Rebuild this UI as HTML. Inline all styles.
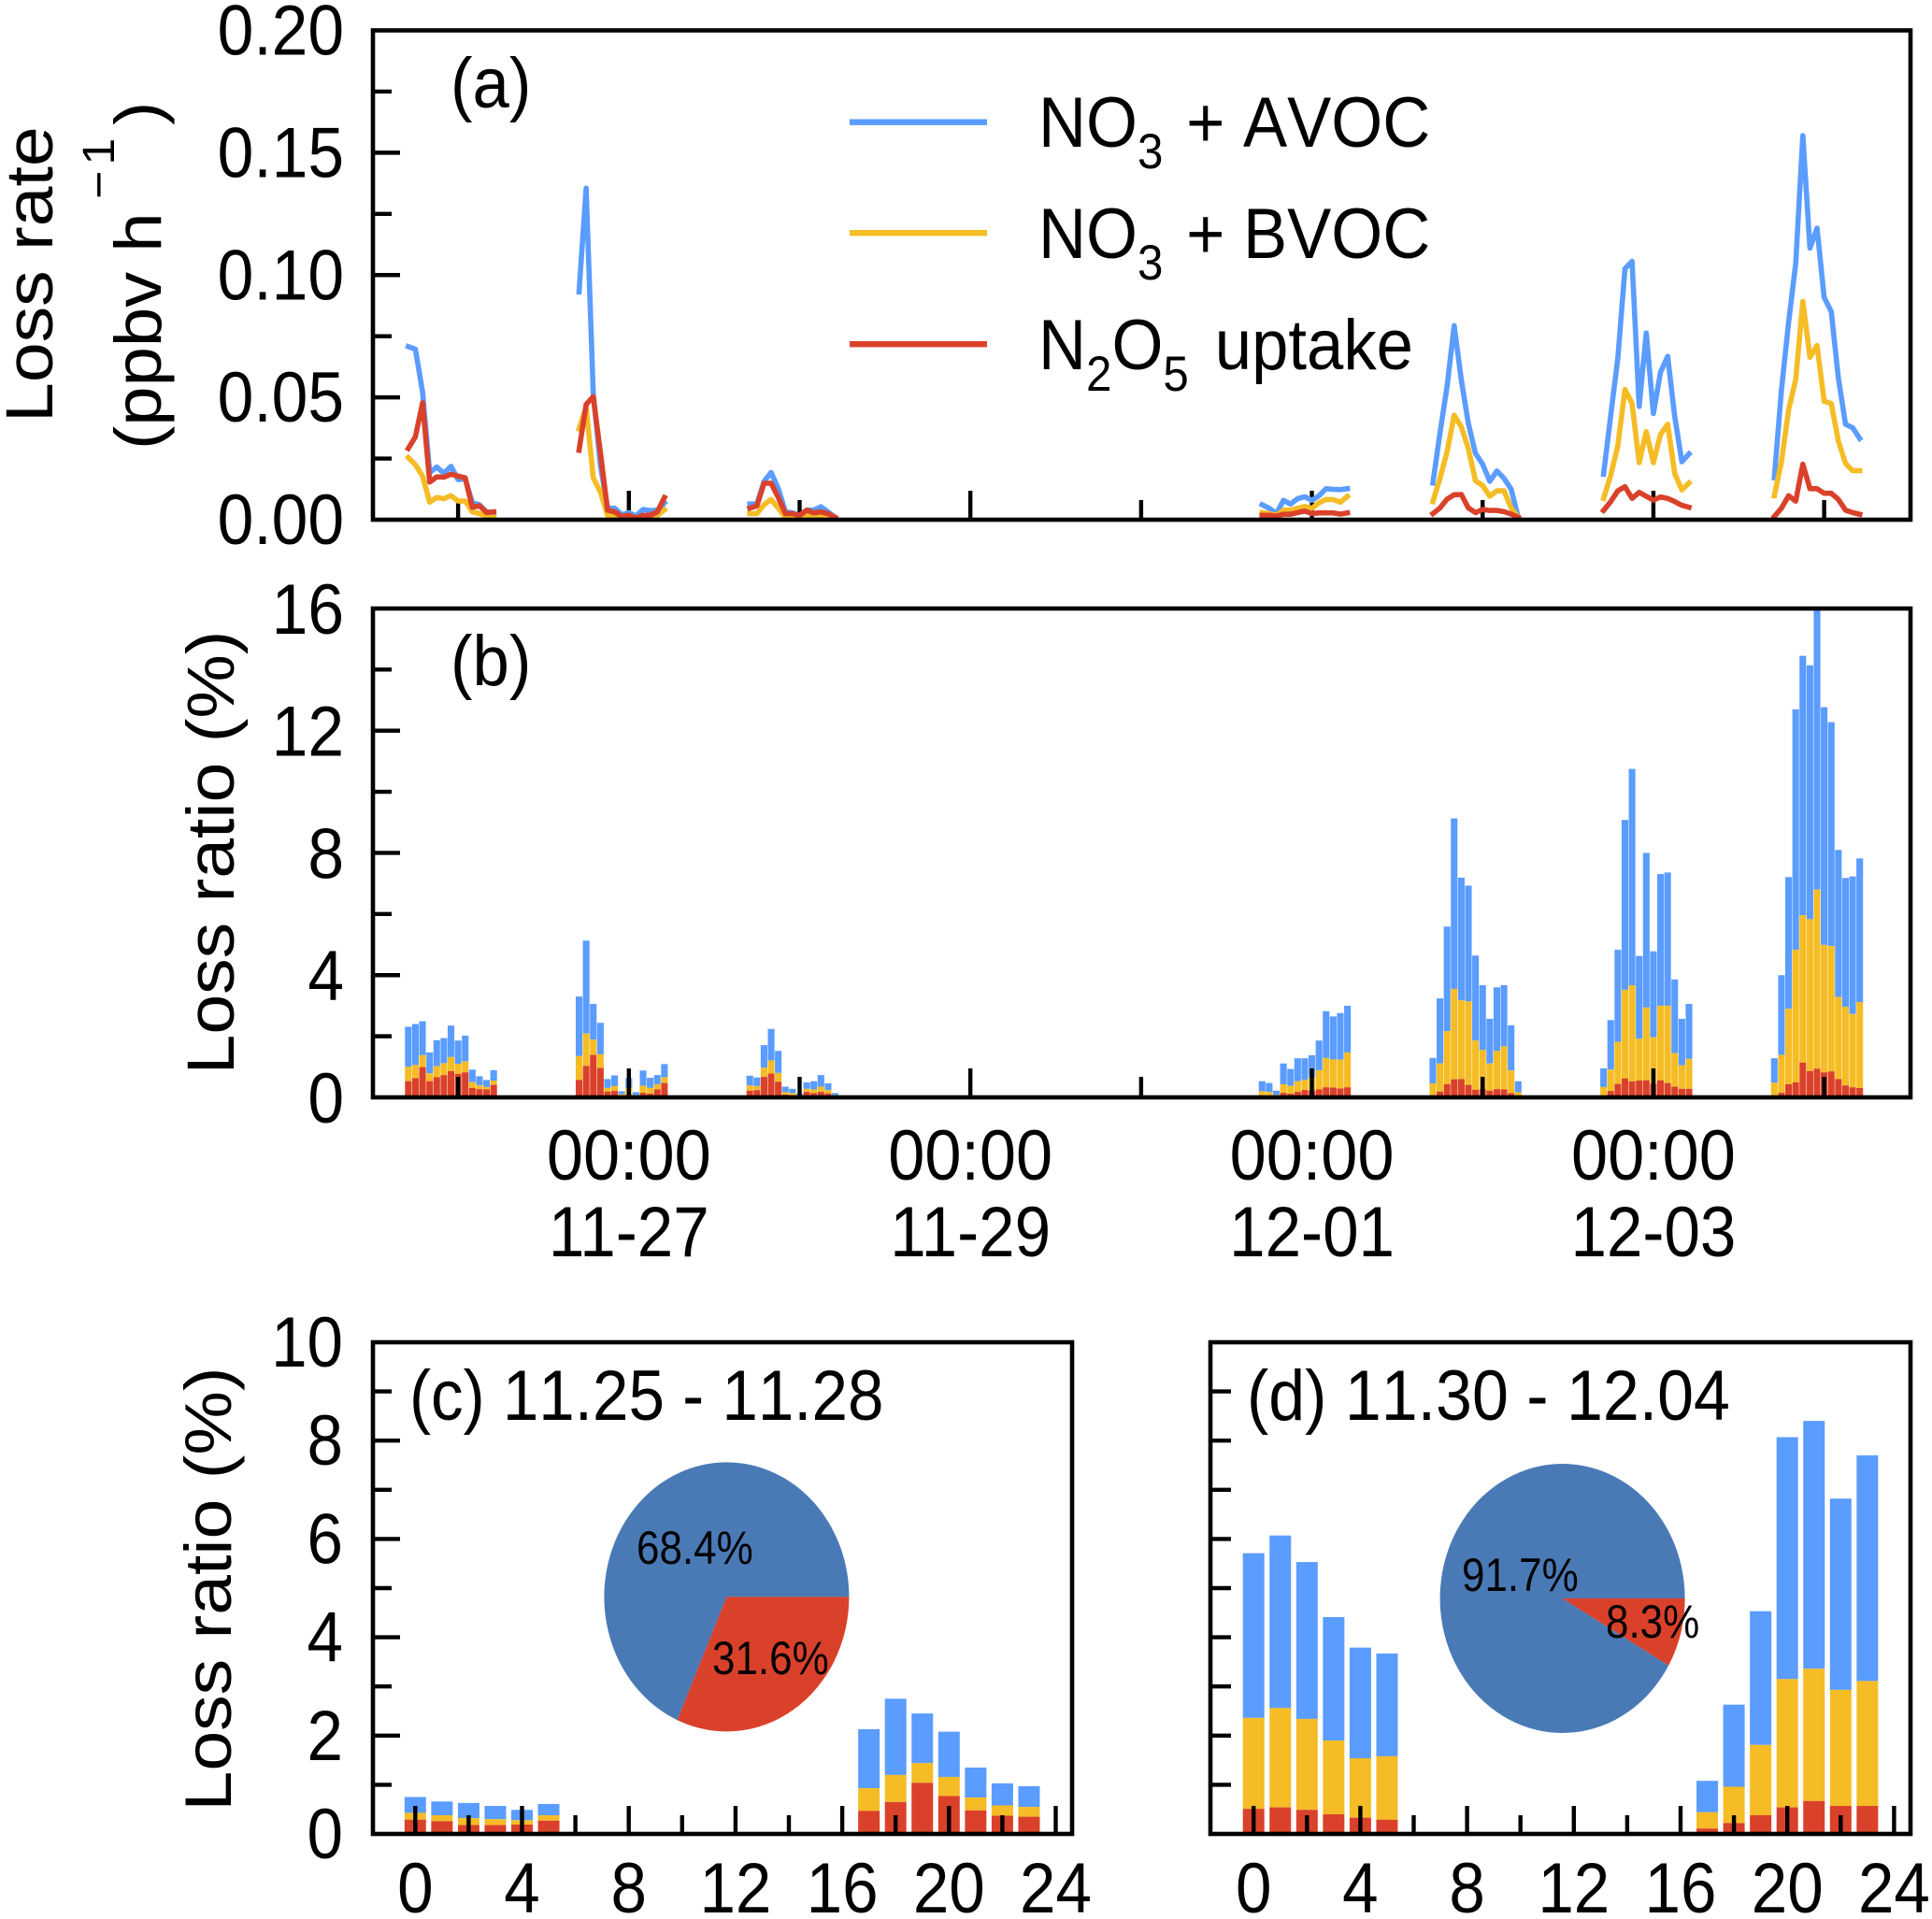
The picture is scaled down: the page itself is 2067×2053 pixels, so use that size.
<!DOCTYPE html>
<html lang="en">
<head>
<meta charset="utf-8">
<title>Loss rate and loss ratio chart</title>
<style>
html,body{margin:0;padding:0;background:#fff;}
svg{display:block;font-family:"Liberation Sans",Arial,sans-serif;fill:#000;}
text{fill:#000;}
.nokern{font-kerning:none;}
</style>
</head>
<body>
<svg id="chart" xmlns="http://www.w3.org/2000/svg" width="2067" height="2053" viewBox="0 0 2067 2053">
  <defs><clipPath id="clip-b"><rect x="399" y="651" width="1645" height="523"/></clipPath></defs>
  <g id="layer-a"></g>
  <g id="layer-b"></g>
  <g id="layer-c"></g>
  <g id="layer-d"></g>
  <rect x="399" y="32.5" width="1645" height="523.5" fill="none" stroke="#000" stroke-width="4.6"/>
  <rect x="399" y="651" width="1645" height="523" fill="none" stroke="#000" stroke-width="4.6"/>
  <rect x="399" y="1436" width="748" height="526" fill="none" stroke="#000" stroke-width="4.6"/>
  <rect x="1295" y="1436" width="749" height="526" fill="none" stroke="#000" stroke-width="4.6"/>

  <text class="nokern" font-size="76" transform="translate(482,115) scale(.93,1)">(a)</text>
  <text class="nokern" font-size="76" transform="translate(482,733) scale(.93,1)">(b)</text>
  <text class="nokern" font-size="76" transform="translate(438,1519) scale(.91,1)">(c) 11.25 - 11.28</text>
  <text class="nokern" font-size="76" transform="translate(1334,1519) scale(.92,1)">(d) 11.30 - 12.04</text>

  <text font-size="77" transform="translate(56,452) scale(.93,1) rotate(-90)">Loss rate</text>
  <text font-size="76" transform="translate(172,481) scale(.93,1) rotate(-90)">(ppbv h</text>
  <text font-size="52" letter-spacing="6" transform="translate(122,213) scale(.93,1) rotate(-90)">−1</text>
  <text font-size="76" transform="translate(172,134) scale(.93,1) rotate(-90)">)</text>
  <text font-size="77" text-anchor="middle" transform="translate(250,912) scale(.93,1) rotate(-90)">Loss ratio (%)</text>
  <text font-size="77" text-anchor="middle" transform="translate(247,1700) scale(.91,1) rotate(-90)">Loss ratio (%)</text>

  <g>
    <rect x="909" y="127.5" width="147" height="6.4" fill="#5a9cff"/>
    <rect x="909" y="246" width="147" height="6.4" fill="#f5bc25"/>
    <rect x="909" y="365" width="147" height="6.4" fill="#da412a"/>
    <text class="nokern" font-size="76" transform="translate(1111,157) scale(.93,1)">NO<tspan font-size="53" dy="23">3</tspan><tspan x="170" dy="-23">+ AVOC</tspan></text>
    <text class="nokern" font-size="76" transform="translate(1111,276) scale(.93,1)">NO<tspan font-size="53" dy="23">3</tspan><tspan x="170" dy="-23">+ BVOC</tspan></text>
    <text class="nokern" font-size="76" transform="translate(1111,395) scale(.93,1)">N<tspan font-size="53" dy="23">2</tspan><tspan dy="-23">O</tspan><tspan font-size="53" dy="23">5</tspan><tspan x="203" dy="-23">uptake</tspan></text>
  </g>
</svg>
<script>
// ---------- shared categories ----------
const nightStartHours = [-31, -7, 17, 89, 113, 137, 161]; // hours after 11-27 00:00 of each 17:00 start
const timeMajorTicks = [0, 48, 96, 144];
const timeMinorTicks = [-24, 24, 72, 120, 168];
const timeTickTimes = ['00:00', '00:00', '00:00', '00:00'];
const timeTickDates = ['11-27', '11-29', '12-01', '12-03'];

// ---------- panel a: loss rate (ppbv/h), 13 hourly values per night ----------
const rateAvoc = [
 [.0708,.0697,.0522,.0193,.0215,.0190,.0218,.0164,.0167,.0069,.0061,.0032,.0029],
 [.0931,.1355,.0515,.0222,.0047,.0047,.0020,.0029,.0015,.0042,.0037,.0039,.0069],
 [.0064,.0064,.0156,.0193,.0127,.0032,.0028,.0018,.0039,.0039,.0053,.0032,.0010],
 [.0061,.0047,.0025,.0079,.0064,.0086,.0094,.0079,.0098,.0127,.0124,.0123,.0127],
 [.0150,.0354,.0545,.0793,.0571,.0392,.0271,.0227,.0157,.0199,.0169,.0125,.0010],
 [.0186,.0427,.0661,.1026,.1056,.0463,.0763,.0434,.0602,.0668,.0420,.0237,.0269],
 [.0171,.0529,.0807,.1048,.1570,.1110,.1192,.0909,.0851,.0580,.0390,.0376,.0332]
];
const rateBvoc = [
 [.0254,.0225,.0178,.0072,.0091,.0086,.0098,.0076,.0076,.0032,.0025,.0015,.0010],
 [.0371,.0460,.0171,.0113,.0018,.0013,.0006,.0010,.0006,.0010,.0010,.0018,.0040],
 [.0025,.0025,.0061,.0083,.0047,.0010,.0010,.0006,.0020,.0013,.0020,.0013,.0006],
 [.0029,.0025,.0018,.0039,.0039,.0047,.0054,.0047,.0069,.0083,.0082,.0072,.0095],
 [.0074,.0169,.0278,.0427,.0380,.0290,.0159,.0140,.0096,.0118,.0118,.0048,.0010],
 [.0087,.0182,.0303,.0532,.0475,.0233,.0360,.0233,.0348,.0390,.0188,.0122,.0150],
 [.0098,.0237,.0449,.0573,.0892,.0664,.0712,.0485,.0475,.0322,.0230,.0200,.0200]
];
const rateN2o5 = [
 [.0291,.0339,.0478,.0154,.0175,.0174,.0186,.0178,.0171,.0051,.0057,.0029,.0032],
 [.0284,.0471,.0503,.0273,.0039,.0032,.0013,.0018,.0007,.0018,.0018,.0032,.0091],
 [.0047,.0057,.0149,.0149,.0091,.0025,.0025,.0018,.0039,.0028,.0032,.0025,.0010],
 [.0018,.0018,.0015,.0022,.0022,.0029,.0035,.0025,.0028,.0028,.0028,.0023,.0028],
 [.0025,.0048,.0084,.0102,.0103,.0048,.0029,.0042,.0038,.0038,.0033,.0023,.0010],
 [.0038,.0074,.0118,.0135,.0087,.0112,.0096,.0080,.0093,.0087,.0074,.0059,.0051],
 [.0013,.0047,.0098,.0076,.0227,.0127,.0127,.0108,.0108,.0083,.0039,.0029,.0022]
];
const rateMajorTicks = [0.05, 0.10, 0.15];
const rateMinorTicks = [0.025, 0.075, 0.125, 0.175];
const rateLabelTicks = [0, 0.05, 0.10, 0.15, 0.20];
const rateTickLabels = ['0.00', '0.05', '0.10', '0.15', '0.20'];

// ---------- panel b: stacked loss ratio (%), stack boundary levels per night ----------
const ratioLevelN2o5 = [
 [.53,.63,.99,.53,.66,.73,.86,.77,.82,.31,.27,.26,.41],
 [.57,1.03,1.39,.96,.19,.21,.04,.10,.05,.15,.12,.26,.47],
 [.22,.24,.67,.78,.51,.09,.07,.04,.18,.14,.18,.13,.03],
 [.04,.04,.04,.15,.12,.18,.24,.22,.26,.33,.32,.29,.33],
 [.07,.19,.43,.59,.60,.41,.25,.27,.22,.27,.26,.14,0],
 [.05,.21,.44,.62,.52,.55,.56,.45,.56,.47,.35,.28,.28],
 [0,.15,.43,.49,1.14,.86,.94,.82,.85,.60,.39,.33,.31]
];
const ratioLevelBvoc = [
 [1.00,1.06,1.38,.79,1.02,1.12,1.32,1.10,1.18,.50,.40,.34,.55],
 [1.35,2.09,1.89,1.41,.31,.37,.10,.30,.07,.38,.31,.43,.66],
 [.39,.37,.97,1.21,.80,.17,.14,.07,.28,.26,.35,.24,.07],
 [.20,.18,.08,.43,.38,.53,.57,.66,.89,1.29,1.24,1.24,1.47],
 [.46,1.11,2.17,3.55,3.18,3.14,1.86,1.55,1.11,1.52,1.67,.88,.17],
 [.34,.91,1.82,3.52,3.67,1.92,2.94,1.97,3.00,3.00,1.45,1.05,1.26],
 [.48,1.39,2.90,4.83,5.96,5.83,6.80,4.99,4.95,3.29,2.96,2.73,3.12]
];
const ratioLevelAvoc = [
 [2.31,2.40,2.49,1.47,1.87,1.94,2.35,1.86,2.02,.91,.69,.57,.89],
 [3.30,5.13,3.06,2.44,.60,.72,.20,.63,.17,.88,.64,.73,1.09],
 [.71,.65,1.71,2.24,1.52,.35,.28,.12,.49,.53,.73,.46,.14],
 [.53,.47,.22,1.11,.93,1.28,1.28,1.38,1.86,2.82,2.65,2.76,3.00],
 [1.29,3.24,5.59,9.13,7.19,6.93,4.64,3.67,2.57,3.60,3.67,2.36,.53],
 [.95,2.53,4.83,9.08,10.75,4.63,8.00,4.78,7.31,7.36,3.86,2.57,3.06],
 [1.28,4.00,7.21,12.70,14.45,14.14,16.2,12.77,12.28,8.10,7.18,7.23,7.82]
];
const ratioMajorTicks = [4, 8, 12];
const ratioMinorTicks = [2, 6, 10, 14];
const ratioLabelTicks = [0, 4, 8, 12, 16];
const ratioTickLabels = ['0', '4', '8', '12', '16'];

// ---------- panels c and d: diurnal stacked loss ratio (%) ----------
const diurnalHours = [0,1,2,3,4,5,17,18,19,20,21,22,23];
const cLevelN2o5 = [.29,.26,.18,.18,.19,.27,.47,.65,1.04,.77,.48,.37,.35];
const cLevelBvoc = [.43,.38,.32,.30,.28,.38,.93,1.20,1.44,1.16,.74,.58,.55];
const cLevelAvoc = [.75,.66,.63,.57,.49,.61,2.13,2.75,2.45,2.08,1.35,1.03,.97];
const dLevelN2o5 = [.51,.54,.49,.40,.33,.29,.11,.22,.38,.54,.67,.57,.57];
const dLevelBvoc = [2.36,2.56,2.34,1.90,1.54,1.58,.44,.96,1.81,3.15,3.36,2.93,3.11];
const dLevelAvoc = [5.71,6.07,5.53,4.41,3.79,3.67,1.08,2.63,4.53,8.07,8.40,6.82,7.70];
const hourMajorTicks = [0,4,8,12,16,20,24];
const hourMinorTicks = [2,6,10,14,18,22];
const hourTickLabels = ['0','4','8','12','16','20','24'];
const diurnalMajorTicks = [2,4,6,8];
const diurnalMinorTicks = [1,3,5,7,9];
const diurnalLabelTicks = [0,2,4,6,8,10];
const diurnalTickLabels = ['0','2','4','6','8','10'];
const diurnalAllTicks = [1,2,3,4,5,6,7,8,9];

// ---------- pies: shares in percent ----------
const pieCShares = [68.4, 31.6];
const pieDShares = [91.7, 8.3];

// ---------- axis functions ----------
const xTime = h => 672.8 + h * 7.612;
const yRate = v => 556 - v * 2617.5;
const yRatio = v => 1174 - v * 32.69;
const yDiurnal = v => 1962 - v * 52.6;
const xHourC = h => 444.3 + h * 28.55;
const xHourD = h => 1341.2 + h * 28.55;

const NS = 'http://www.w3.org/2000/svg';
const BLUE = '#5a9cff', YELLOW = '#f5bc25', RED = '#da412a';
function make(parent, tag, attrs) {
  const el = document.createElementNS(NS, tag);
  for (const k in attrs) el.setAttribute(k, attrs[k]);
  parent.appendChild(el);
  return el;
}
function tick(parent, x1, y1, x2, y2, w) {
  return make(parent, 'line', {x1, y1, x2, y2, stroke: '#000', 'stroke-width': w});
}
function label(parent, str, x, y, anchor, sx) {
  const el = make(parent, 'text', {'font-size': 76, 'text-anchor': anchor, transform: `translate(${x},${y}) scale(${sx},1)`});
  el.textContent = str;
  return el;
}

const layerA = document.getElementById('layer-a');
const layerB = document.getElementById('layer-b');
const layerC = document.getElementById('layer-c');
const layerD = document.getElementById('layer-d');

// ---------- panel a ----------
rateMajorTicks.forEach(v => {
  const t = tick(layerA, 399, yRate(v), 428, yRate(v), 4.4);
  
  
});
rateMinorTicks.forEach(v => {
  const t = tick(layerA, 399, yRate(v), 419, yRate(v), 4.4);
  
  
});
rateLabelTicks.forEach((v, i) => {
  const t = label(layerA, rateTickLabels[i], 368, yRate(v) + 26, 'end', .915);
  
  
});
timeMajorTicks.forEach(h => {
  const t = tick(layerA, xTime(h), 556, xTime(h), 525, 4.4);
  
  
});
timeMinorTicks.forEach(h => {
  const t = tick(layerA, xTime(h), 556, xTime(h), 535, 4.4);
  
  
});
function drawRateLine(series, color, seriesName) {
  series.forEach((night, n) => {
    const pts = night.map((v, i) => xTime(nightStartHours[n] + i).toFixed(1) + ',' + yRate(v).toFixed(1)).join(' ');
    const line = make(layerA, 'polyline', {points: pts, fill: 'none', stroke: color, 'stroke-width': 5.6, 'stroke-linejoin': 'round', 'stroke-linecap': 'square'});
    
    
  });
}
drawRateLine(rateAvoc, BLUE, 'avoc');
drawRateLine(rateBvoc, YELLOW, 'bvoc');
drawRateLine(rateN2o5, RED, 'n2o5');

// ---------- panel b ----------
const barsB = make(layerB, 'g', {'clip-path': 'url(#clip-b)'});


function stackBar(parent, xc, width, yFn, lowLevel, midLevel, topLevel) {
  const top = make(parent, 'rect', {x: xc - width / 2, width, y: yFn(topLevel), height: Math.max(0, yFn(midLevel) - yFn(topLevel)), fill: BLUE});
  
  
  const mid = make(parent, 'rect', {x: xc - width / 2, width, y: yFn(midLevel), height: Math.max(0, yFn(lowLevel) - yFn(midLevel)), fill: YELLOW});
  
  
  const low = make(parent, 'rect', {x: xc - width / 2, width, y: yFn(lowLevel), height: Math.max(0, yFn(0) - yFn(lowLevel)), fill: RED});
  
  
}
nightStartHours.forEach((start, n) => {
  ratioLevelAvoc[n].forEach((v, i) => {
    stackBar(barsB, xTime(start + i), 7.1, yRatio, ratioLevelN2o5[n][i], ratioLevelBvoc[n][i], v);
  });
});
ratioMajorTicks.forEach(v => {
  const t = tick(layerB, 399, yRatio(v), 428, yRatio(v), 4.4);
  
  
});
ratioMinorTicks.forEach(v => {
  const t = tick(layerB, 399, yRatio(v), 419, yRatio(v), 4.4);
  
  
});
ratioLabelTicks.forEach((v, i) => {
  const t = label(layerB, ratioTickLabels[i], 368, yRatio(v) + 27, 'end', .915);
  
  
});
timeMajorTicks.forEach((h, i) => {
  const t = tick(layerB, xTime(h), 1174, xTime(h), 1143, 4.4);
  
  
  const a = label(layerB, timeTickTimes[i], xTime(h), 1262, 'middle', .925);
  
  
  const b = label(layerB, timeTickDates[i], xTime(h), 1344, 'middle', .91);
  
  
});
timeMinorTicks.forEach(h => {
  const t = tick(layerB, xTime(h), 1174, xTime(h), 1152, 4.4);
  
  
});

// ---------- panels c and d ----------
function ellipsePoint(cx, cy, rx, ry, deg) {
  const a = deg * Math.PI / 180;
  return [cx + rx * Math.cos(a), cy + ry * Math.sin(a)];
}
function drawPie(parent, cx, cy, shares) {
  const redDeg = shares[1] / 100 * 360;
  const p = ellipsePoint(cx, cy, 131, 144, redDeg);
  const blue = make(parent, 'path', {d: `M${cx},${cy} L${p[0]},${p[1]} A131,144 0 ${redDeg < 180 ? 1 : 0} 1 ${cx + 131},${cy} Z`, fill: '#4a7ab6'});
  
  
  const red = make(parent, 'path', {d: `M${cx},${cy} L${cx + 131},${cy} A131,144 0 ${redDeg < 180 ? 0 : 1} 1 ${p[0]},${p[1]} Z`, fill: RED});
  
  
}
function pieLabel(parent, share, x, y) {
  const el = make(parent, 'text', {'font-size': 50, transform: `translate(${x},${y}) scale(.88,1)`});
  el.textContent = share + '%';
  
  
}
function drawHourAxis(parent, xFn, panelName) {
  hourMajorTicks.forEach((h, i) => {
    const t = tick(parent, xFn(h), 1962, xFn(h), 1932, 4.4);
    
    
    const l = label(parent, hourTickLabels[i], xFn(h), 2046, 'middle', .91);
    
    
  });
  hourMinorTicks.forEach(h => {
    const t = tick(parent, xFn(h), 1962, xFn(h), 1942, 4.4);
    
    
  });
}
drawPie(layerC, 777.4, 1708.4, pieCShares);
drawPie(layerD, 1671.6, 1710, pieDShares);
diurnalHours.forEach((h, i) => {
  stackBar(layerC, xHourC(h), 23, yDiurnal, cLevelN2o5[i], cLevelBvoc[i], cLevelAvoc[i]);
  stackBar(layerD, xHourD(h), 23, yDiurnal, dLevelN2o5[i], dLevelBvoc[i], dLevelAvoc[i]);
});
pieLabel(layerC, pieCShares[0], 681, 1673);
pieLabel(layerC, pieCShares[1], 762, 1791);
pieLabel(layerD, pieDShares[0], 1564, 1702);
pieLabel(layerD, pieDShares[1], 1718, 1752);
diurnalMajorTicks.forEach(v => {
  const t = tick(layerC, 399, yDiurnal(v), 428, yDiurnal(v), 4.4);
  
  
});
diurnalMinorTicks.forEach(v => {
  const t = tick(layerC, 399, yDiurnal(v), 419, yDiurnal(v), 4.4);
  
  
});
diurnalLabelTicks.forEach((v, i) => {
  const t = label(layerC, diurnalTickLabels[i], 367, yDiurnal(v) + 26, 'end', .91);
  
  
});
diurnalAllTicks.forEach(v => {
  const t = tick(layerD, 1295, yDiurnal(v), 1317, yDiurnal(v), 4.4);
  
  
});
drawHourAxis(layerC, xHourC, 'c');
drawHourAxis(layerD, xHourD, 'd');
</script>
</body>
</html>
